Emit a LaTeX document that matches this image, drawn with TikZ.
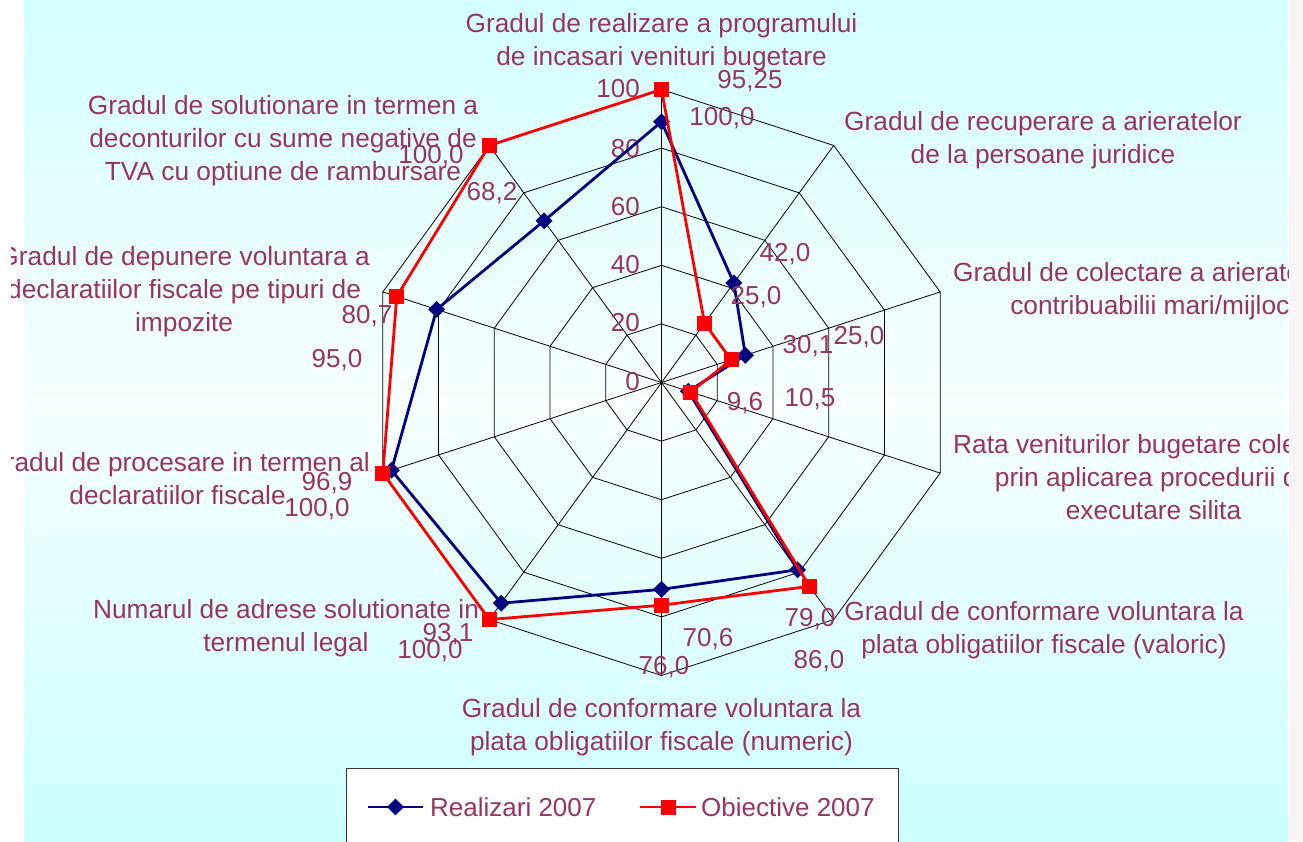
\documentclass[tikz,border=0pt]{standalone}
\usepackage{fontspec}
\setmainfont{Liberation Sans}
\usetikzlibrary{shapes.geometric}
\definecolor{plum}{HTML}{993366}
\definecolor{navyb}{HTML}{000080}
\definecolor{redo}{HTML}{FF0000}
\definecolor{cyantop}{HTML}{D3FFFF}
\definecolor{cyanmid}{HTML}{F7FFFF}
\definecolor{cyanbot}{HTML}{CCFFFF}
\definecolor{stripc}{HTML}{F9F5F7}
\begin{document}
\begin{tikzpicture}[x=1pt,y=-1pt,
  lbl/.style={text=plum, font=\fontsize{26.3}{33}\selectfont, inner sep=0pt, align=center},
  val/.style={text=plum, font=\fontsize{26}{33}\selectfont, inner sep=0pt},
  gridline/.style={draw=black, line width=0.8pt},
  bser/.style={draw=navyb, line width=2.8pt, line join=round},
  rser/.style={draw=redo, line width=2.8pt, line join=round},
  bmark/.style={diamond, fill=navyb, inner sep=0pt, minimum size=17pt},
  rmark/.style={rectangle, fill=redo, inner sep=0pt, minimum size=15pt},
]
\useasboundingbox (0,0) rectangle (1303,841);
% background
\fill[white] (0,0) rectangle (24,841);
\fill[top color=cyantop, bottom color=cyanmid] (24,0) rectangle (1288,400);
\fill[top color=cyanmid, bottom color=cyanbot] (24,400) rectangle (1288,841);
\fill[stripc] (1289,0) rectangle (1303,841);

\begin{scope}
\clip (11,0) rectangle (1288,841);
\coordinate (O) at (661.5,382.5);
% grid rings
\foreach \r in {20,40,60,80,100} {
  \draw[gridline] ({661.5},{382.5-2.93*\r})
    \foreach \k in {1,...,9} { -- ({661.5+2.93*\r*sin(36*\k)},{382.5-2.93*\r*cos(36*\k)}) } -- cycle;
}
% spokes
\foreach \k in {0,...,9} {
  \coordinate (ax\k) at ({661.5+293*sin(36*\k)},{382.5-293*cos(36*\k)});
  \draw[gridline] (O) -- (ax\k);
}
% ring labels
\node[val, anchor=east] (t100) at (640,89) {100};
\node[val, anchor=east] (t80) at (640,149) {80};
\node[val, anchor=east] (t60) at (640,207) {60};
\node[val, anchor=east] (t40) at (640,265) {40};
\node[val, anchor=east] (t20) at (640,323) {20};
\node[val, anchor=east] (t0) at (640,382) {0};

% series points
\foreach \v [count=\i from 0] in {89,42,30.1,9.6,79,70.6,93.1,96.9,80.7,68.2}
  \coordinate (b\i) at ({661.5+2.93*\v*sin(36*\i)},{382.5-2.93*\v*cos(36*\i)});
\foreach \v [count=\i from 0] in {100,25,25,10.5,86,76,100,100,95,100}
  \coordinate (r\i) at ({661.5+2.93*\v*sin(36*\i)},{382.5-2.93*\v*cos(36*\i)});

\draw[bser] (b0) -- (b1) -- (b2) -- (b3) -- (b4) -- (b5) -- (b6) -- (b7) -- (b8) -- (b9) -- cycle;
\foreach \i in {0,...,9} \node[bmark] (bm\i) at (b\i) {};
\draw[rser] (r0) -- (r1) -- (r2) -- (r3) -- (r4) -- (r5) -- (r6) -- (r7) -- (r8) -- (r9) -- cycle;
\foreach \i in {0,...,9} \node[rmark] (rm\i) at (r\i) {};

% category labels
\node[lbl] (c0) at (661.5,42) {Gradul de realizare a programului\\de incasari venituri bugetare};
\node[lbl] (c1) at (1043,140) {Gradul de recuperare a arieratelor\\de la persoane juridice};
\node[lbl, anchor=west] (c2) at (953,291) {Gradul de colectare a arieratelor la\\contribuabilii mari/mijlocii};
\node[lbl, anchor=west] (c3) at (953,477) {Rata veniturilor bugetare colectate\\prin aplicarea procedurii de\\executare silita};
\node[lbl] (c4) at (1044,630) {Gradul de conformare voluntara la\\plata obligatiilor fiscale (valoric)};
\node[lbl] (c5) at (661.5,727) {Gradul de conformare voluntara la\\plata obligatiilor fiscale (numeric)};
\node[lbl] (c6) at (286,628) {Numarul de adrese solutionate in\\termenul legal};
\node[lbl, anchor=east] (c7) at (370,479) {Gradul de procesare in termen al\\declaratiilor fiscale};
\node[lbl, anchor=east] (c8) at (370,292) {Gradul de depunere voluntara a\\declaratiilor fiscale pe tipuri de\\impozite};
\node[lbl] (c9) at (283,141) {Gradul de solutionare in termen a\\deconturilor cu sume negative de\\TVA cu optiune de rambursare};

% data labels
\node[val] (d0a) at (750,81) {95,25};
\node[val] (d0b) at (722,118) {100,0};
\node[val] (d1a) at (785,254) {42,0};
\node[val] (d1b) at (756,297) {25,0};
\node[val] (d2a) at (808,346) {30,1};
\node[val] (d2b) at (859,337) {25,0};
\node[val] (d3a) at (745,403) {9,6};
\node[val] (d3b) at (810,399) {10,5};
\node[val] (d4a) at (810,619) {79,0};
\node[val] (d4b) at (819,661) {86,0};
\node[val] (d5a) at (708,639) {70,6};
\node[val] (d5b) at (664,667) {76,0};
\node[val] (d6a) at (448,634) {93,1};
\node[val] (d6b) at (430,651) {100,0};
\node[val] (d7a) at (327,483) {96,9};
\node[val] (d7b) at (317,509) {100,0};
\node[val] (d8a) at (367,316) {80,7};
\node[val] (d8b) at (337,360) {95,0};
\node[val] (d9a) at (492,193) {68,2};
\node[val] (d9b) at (431,156) {100,0};

% legend
\node[draw=black!80, fill=white, line width=1pt, inner sep=0pt, minimum width=552.5pt, minimum height=110pt, anchor=north west] (legend) at (345.5,768) {};
\coordinate (lb1) at (368,807);
\coordinate (lb2) at (423,807);
\draw[bser] (lb1) -- (lb2);
\node[bmark] (lbm) at (395.5,807) {};
\node[val, anchor=west] (lt1) at (430,807) {Realizari 2007};
\coordinate (lr1) at (640,807);
\coordinate (lr2) at (695.5,807);
\draw[rser] (lr1) -- (lr2);
\node[rmark] (lrm) at (668,807) {};
\node[val, anchor=west] (lt2) at (701,807) {Obiective 2007};
\end{scope}
\end{tikzpicture}
\end{document}
